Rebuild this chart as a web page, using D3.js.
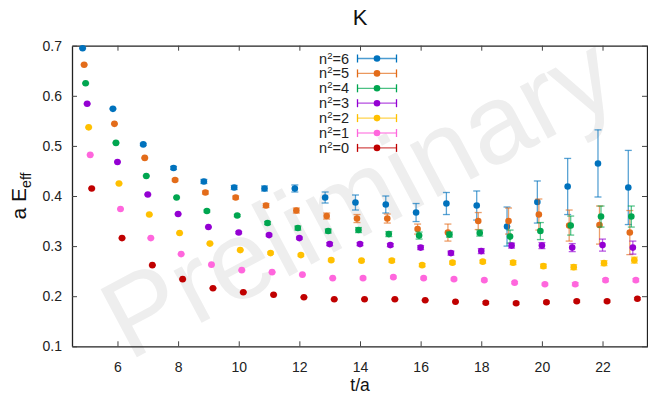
<!DOCTYPE html>
<html>
<head>
<meta charset="utf-8">
<script src="https://cdn.jsdelivr.net/npm/d3@7"></script>
<style>
  body { margin: 0; background: #fff; }
  svg { display: block; font-family: "Liberation Sans", Arial, sans-serif; }
</style>
</head>
<body>
<svg id="chart" width="648" height="394"></svg>
<script>
const width = 648;
const height = 394;
const margin = { top: 45.7, right: 0, bottom: 47.7, left: 72 };

// time slices
const tValues = [5, 6, 7, 8, 9, 10, 11, 12, 13, 14, 15, 16, 17, 18, 19, 20, 21, 22, 23];
const nsq = [6, 5, 4, 3, 2, 1, 0];
const colors = ["#0072bd", "#e36c1a", "#00a650", "#9400d3", "#ffc000", "#ff66dd", "#c00000"];

// effective energies, one array per n^2
const e6 = [0.695, 0.574, 0.503, 0.456, 0.429, 0.417, 0.415, 0.415, 0.397, 0.387, 0.383, 0.367, 0.385, 0.381, 0.339, 0.388, 0.419, 0.465, 0.417];
const e5 = [0.662, 0.544, 0.476, 0.432, 0.407, 0.397, 0.381, 0.371, 0.360, 0.355, 0.355, 0.334, 0.327, 0.350, 0.350, 0.363, 0.341, 0.342, 0.327];
const e4 = [0.625, 0.506, 0.440, 0.397, 0.370, 0.361, 0.346, 0.336, 0.330, 0.332, 0.324, 0.321, 0.323, 0.326, 0.319, 0.330, 0.341, 0.359, 0.359];
const e3 = [0.584, 0.468, 0.403, 0.364, 0.338, 0.327, 0.322, 0.316, 0.304, 0.304, 0.302, 0.297, 0.286, 0.290, 0.301, 0.301, 0.297, 0.302, 0.297];
const e2 = [0.537, 0.425, 0.363, 0.326, 0.305, 0.292, 0.286, 0.282, 0.272, 0.271, 0.271, 0.262, 0.267, 0.269, 0.267, 0.260, 0.258, 0.266, 0.272];
const e1 = [0.482, 0.374, 0.316, 0.284, 0.263, 0.252, 0.248, 0.243, 0.236, 0.236, 0.238, 0.236, 0.234, 0.232, 0.227, 0.224, 0.224, 0.232, 0.232];
const e0 = [0.415, 0.316, 0.262, 0.234, 0.216, 0.208, 0.203, 0.198, 0.194, 0.194, 0.194, 0.192, 0.189, 0.187, 0.186, 0.188, 0.190, 0.190, 0.195];

// errors
const d6 = [0.001, 0.001, 0.002, 0.003, 0.004, 0.004, 0.005, 0.007, 0.011, 0.015, 0.017, 0.018, 0.022, 0.029, 0.039, 0.042, 0.056, 0.067, 0.074];
const d5 = [0.001, 0.001, 0.001, 0.002, 0.003, 0.003, 0.004, 0.005, 0.006, 0.008, 0.009, 0.010, 0.017, 0.017, 0.026, 0.031, 0.031, 0.038, 0.044];
const d4 = [0.001, 0.001, 0.001, 0.001, 0.002, 0.002, 0.003, 0.004, 0.004, 0.005, 0.005, 0.007, 0.005, 0.006, 0.013, 0.017, 0.019, 0.021, 0.021];
const d3e = [0.001, 0.001, 0.001, 0.001, 0.001, 0.002, 0.002, 0.002, 0.003, 0.003, 0.003, 0.004, 0.004, 0.005, 0.005, 0.006, 0.008, 0.012, 0.013];
const d2 = [0.001, 0.001, 0.001, 0.001, 0.001, 0.001, 0.002, 0.002, 0.002, 0.002, 0.003, 0.003, 0.003, 0.003, 0.004, 0.004, 0.005, 0.005, 0.006];
const d1 = [0.001, 0.001, 0.001, 0.001, 0.001, 0.001, 0.001, 0.001, 0.001, 0.002, 0.002, 0.002, 0.002, 0.002, 0.002, 0.002, 0.003, 0.003, 0.003];
const d0 = [0.001, 0.001, 0.001, 0.001, 0.001, 0.001, 0.001, 0.001, 0.001, 0.001, 0.001, 0.001, 0.001, 0.002, 0.002, 0.002, 0.002, 0.002, 0.002];

const values = [e6, e5, e4, e3, e2, e1, e0];
const errors = [d6, d5, d4, d3e, d2, d1, d0];

const xTicks = [6, 8, 10, 12, 14, 16, 18, 20, 22];
const yTicks = [0.1, 0.2, 0.3, 0.4, 0.5, 0.6, 0.7];
const shift = 0.05; // horizontal offset between n^2 series

const svg = d3.select("#chart");

const x = d3.scaleLinear().domain([4.5, 23.5]).range([margin.left, width - margin.right]);
const y = d3.scaleLinear().domain([0.1, 0.7]).range([height - margin.bottom, margin.top]);

// watermark
svg.append("text")
  .attr("transform", "translate(358,196) rotate(-28)")
  .attr("text-anchor", "middle")
  .attr("dominant-baseline", "central")
  .attr("font-size", 112)
  .attr("fill", "#eeeeee")
  .text("Preliminary");

// axes
const axG = svg.append("g");
axG.append("g")
  .attr("transform", `translate(0,${height - margin.bottom})`)
  .call(d3.axisBottom(x).tickValues(xTicks).tickSize(-5).tickSizeOuter(0).tickPadding(15.5));
axG.append("g")
  .attr("transform", `translate(0,${margin.top})`)
  .call(d3.axisTop(x).tickValues(xTicks).tickSize(-5).tickSizeOuter(0).tickFormat(""));
axG.append("g")
  .attr("transform", `translate(${margin.left},0)`)
  .call(d3.axisLeft(y).tickValues(yTicks).tickSize(-5).tickSizeOuter(0).tickPadding(10).tickFormat(d3.format(".1f")));
axG.append("g")
  .attr("transform", `translate(${width - 1},0)`)
  .call(d3.axisRight(y).tickValues(yTicks).tickSize(-5).tickSizeOuter(0).tickFormat(""));

axG.selectAll(".domain").attr("stroke", "#222").attr("stroke-width", 1.3);
axG.selectAll(".tick line").attr("stroke", "#444").attr("stroke-width", 1);
axG.selectAll(".tick text").attr("font-size", 14).attr("fill", "#222")
  .attr("font-family", "Liberation Sans, Arial, sans-serif");

// data
const capW = 3.5;
nsq.forEach((n, i) => {
  const g = svg.append("g");
  const pts = tValues.map((t, j) => ({ t: t + (3 - n) * shift, v: values[i][j], e: errors[i][j] }));
  const eb = g.append("g")
    .attr("stroke", colors[i])
    .attr("stroke-width", 1.3)
    .attr("stroke-opacity", 0.65);
  eb.selectAll("line.bar").data(pts).join("line")
    .attr("x1", d => x(d.t)).attr("x2", d => x(d.t))
    .attr("y1", d => y(d.v - d.e)).attr("y2", d => y(d.v + d.e));
  eb.selectAll("line.lo").data(pts).join("line")
    .attr("x1", d => x(d.t) - capW).attr("x2", d => x(d.t) + capW)
    .attr("y1", d => y(d.v - d.e)).attr("y2", d => y(d.v - d.e));
  eb.selectAll("line.hi").data(pts).join("line")
    .attr("x1", d => x(d.t) - capW).attr("x2", d => x(d.t) + capW)
    .attr("y1", d => y(d.v + d.e)).attr("y2", d => y(d.v + d.e));
  g.selectAll("circle").data(pts).join("circle")
    .attr("cx", d => x(d.t))
    .attr("cy", d => y(d.v))
    .attr("r", 3.3)
    .attr("fill", colors[i]);
});

// legend
const legend = svg.append("g");
nsq.forEach((n, i) => {
  const ly = 58.5 + i * 14.9;
  const lt = legend.append("text")
    .attr("x", 349)
    .attr("y", ly + 5)
    .attr("text-anchor", "end")
    .attr("font-size", 14.5)
    .attr("fill", "#222");
  lt.append("tspan").text("n");
  lt.append("tspan").attr("dy", -5).attr("font-size", 9.5).text("2");
  lt.append("tspan").attr("dy", 5).text("=" + n);
  const lg = legend.append("g").attr("stroke", colors[i]).attr("stroke-width", 1.3);
  lg.append("line").attr("x1", 357.5).attr("x2", 396.5).attr("y1", ly).attr("y2", ly).attr("stroke-opacity", 0.7);
  lg.append("line").attr("x1", 357.5).attr("x2", 357.5).attr("y1", ly - 4).attr("y2", ly + 4);
  lg.append("line").attr("x1", 396.5).attr("x2", 396.5).attr("y1", ly - 4).attr("y2", ly + 4);
  legend.append("circle").attr("cx", 377).attr("cy", ly).attr("r", 3.3).attr("fill", colors[i]);
});

// title and axis labels
svg.append("text")
  .attr("x", 360).attr("y", 25)
  .attr("text-anchor", "middle")
  .attr("font-size", 22)
  .attr("fill", "#111")
  .text("K");

svg.append("text")
  .attr("x", 360).attr("y", 391)
  .attr("text-anchor", "middle")
  .attr("font-size", 17.5)
  .attr("fill", "#111")
  .text("t/a");

const yl = svg.append("text")
  .attr("transform", "translate(26,196) rotate(-90)")
  .attr("text-anchor", "middle")
  .attr("font-size", 21)
  .attr("fill", "#111");
yl.append("tspan").text("a E");
yl.append("tspan").attr("dy", 5).attr("font-size", 14).text("eff");
</script>
</body>
</html>
